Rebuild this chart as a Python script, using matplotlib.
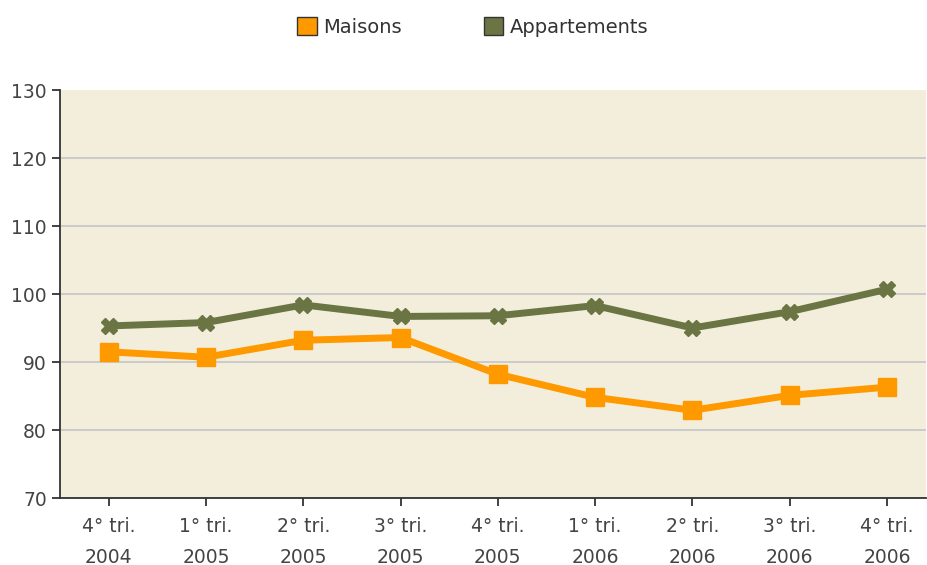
import matplotlib
matplotlib.use("Agg")
import matplotlib.pyplot as plt
from matplotlib.patches import Patch

categories = ["4° tri.\n2004", "1° tri.\n2005", "2° tri.\n2005", "3° tri.\n2005", "4° tri.\n2005",
              "1° tri.\n2006", "2° tri.\n2006", "3° tri.\n2006", "4° tri.\n2006"]
maisons = [91.5, 90.7, 93.2, 93.6, 88.2, 84.8, 82.9, 85.1, 86.3]
appartements = [95.3, 95.8, 98.4, 96.7, 96.8, 98.3, 95.0, 97.4, 100.7]
yticks = [70, 80, 90, 100, 110, 120, 130]

plt.rcParams['font.family'] = ['DejaVu Sans']
fig = plt.figure(figsize=(9.27, 5.65), dpi=100)
ax = fig.add_axes([60/927, 1-498/565, 866/927, 408/565])
ax.set_facecolor("#F3EEDB")

c_m = "#FF9900"
c_a = "#6A7543"
x = list(range(len(categories)))
ax.plot(x, appartements, color=c_a, lw=5, marker="X", ms=12, mec=c_a, mfc=c_a, zorder=3)
ax.plot(x, maisons, color=c_m, lw=5, marker="s", ms=12.5, mec=c_m, mfc=c_m, zorder=4)

ax.set_ylim(70, 130)
ax.set_yticks(yticks)
ax.set_xlim(-0.5, 8.4)
ax.set_xticks(x)
ax.set_xticklabels(categories, linespacing=1.75)
ax.grid(axis="y", color="#C4C4C8", lw=1.2)
ax.yaxis.get_gridlines()[-1].set_visible(False)
ax.set_axisbelow(True)
for s in ["top", "right"]:
    ax.spines[s].set_visible(False)
for s in ["left", "bottom"]:
    ax.spines[s].set_color("#333333")
    ax.spines[s].set_linewidth(1.3)
ax.tick_params(axis="both", colors="#333333", labelsize=13.5, length=6, width=1.3, labelcolor="#444444")
ax.tick_params(axis="x", pad=8)

handles = [Patch(facecolor=c_m, edgecolor="#333333", label="Maisons"),
           Patch(facecolor=c_a, edgecolor="#333333", label="Appartements")]
fig.legend(handles=handles, loc="center", bbox_to_anchor=(0.51, 1-27/565), ncol=2, frameon=False,
           fontsize=14, handlelength=1.0, handleheight=1.0, handletextpad=0.35, columnspacing=4.2,
           labelcolor="#333333")

fig.savefig("out.png", dpi=100)
